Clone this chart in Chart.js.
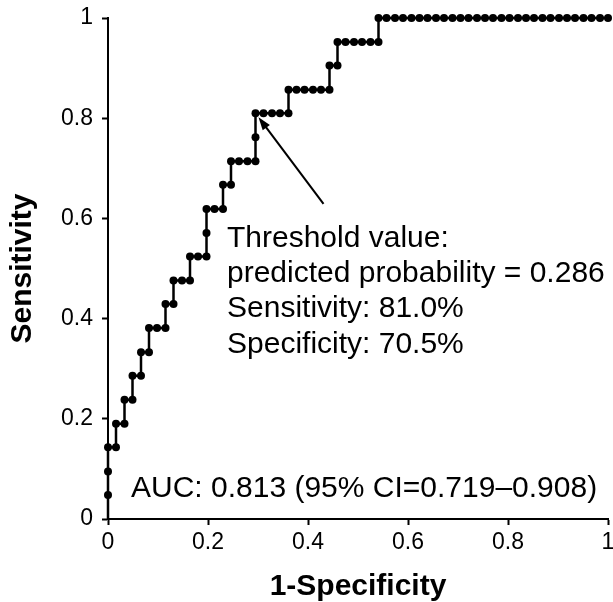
<!DOCTYPE html>
<html>
<head>
<meta charset="utf-8">
<script src="https://cdn.jsdelivr.net/npm/chart.js@4/dist/chart.umd.min.js"></script>
<style>
  body { margin: 0; background: #fff; }
  #wrap { width: 613px; height: 602px; }
</style>
</head>
<body>
<div id="wrap"><canvas id="myChart" width="613" height="602"></canvas></div>
<script>
// ROC curve points: 1-specificity (x) and sensitivity (y)
var fpr = [0, 0, 0, 0, 0.016, 0.016, 0.033, 0.033, 0.049, 0.049, 0.066, 0.066, 0.082, 0.082,
  0.098, 0.115, 0.115, 0.131, 0.131, 0.148, 0.164, 0.164, 0.180, 0.197, 0.197, 0.197, 0.213,
  0.230, 0.230, 0.246, 0.246, 0.262, 0.279, 0.295, 0.295, 0.295, 0.311, 0.328, 0.344, 0.361,
  0.361, 0.377, 0.393, 0.410, 0.426, 0.443, 0.443, 0.459, 0.459, 0.475, 0.492, 0.508, 0.525,
  0.541, 0.541, 0.557, 0.574, 0.590, 0.607, 0.623, 0.639, 0.656, 0.672, 0.689, 0.705, 0.721,
  0.738, 0.754, 0.770, 0.787, 0.803, 0.820, 0.836, 0.852, 0.869, 0.885, 0.902, 0.918, 0.934,
  0.951, 0.967, 0.984, 1]
var tpr = [0, 0.048, 0.095, 0.143, 0.143, 0.190, 0.190, 0.238, 0.238, 0.286, 0.286, 0.333, 0.333,
  0.381, 0.381, 0.381, 0.429, 0.429, 0.476, 0.476, 0.476, 0.524, 0.524, 0.524, 0.571, 0.619,
  0.619, 0.619, 0.667, 0.667, 0.714, 0.714, 0.714, 0.714, 0.762, 0.810, 0.810, 0.810, 0.810,
  0.810, 0.857, 0.857, 0.857, 0.857, 0.857, 0.857, 0.905, 0.905, 0.952, 0.952, 0.952, 0.952,
  0.952, 0.952, 1, 1, 1, 1, 1, 1, 1, 1, 1, 1, 1, 1, 1, 1, 1, 1, 1, 1, 1, 1, 1, 1, 1, 1, 1, 1,
  1, 1, 1]

var xTicks = [0, 0.2, 0.4, 0.6, 0.8, 1]
var yTicks = [0, 0.2, 0.4, 0.6, 0.8, 1]

// annotation
var thresholdPoint = [0.295, 0.810]
var arrowTail = [0.431, 0.629]
var noteLines = ["Threshold value:", "predicted probability = 0.286", "Sensitivity: 81.0%", "Specificity: 70.5%"]
var noteAnchor = [0.238, 0.5435]
var aucText = "AUC: 0.813 (95% CI=0.719\u20130.908)"
var aucAnchor = [0.046, 0.0445]

var FONT = "'Liberation Sans', Arial, Helvetica, sans-serif"
Chart.defaults.font.family = FONT
Chart.defaults.color = "#000"

var points = []
for (var i = 0; i < fpr.length; i++) points.push({x: fpr[i], y: tpr[i]})
var radii = points.map(function(p, i){ return i === 0 ? 0 : 4 })

var notes = {
  id: "notes",
  afterDatasetsDraw: function(chart){
    var ctx = chart.ctx, xs = chart.scales.x, ys = chart.scales.y
    ctx.save()
    // arrow
    var tx = xs.getPixelForValue(thresholdPoint[0]) + 3, ty = ys.getPixelForValue(thresholdPoint[1]) + 4
    var sx = xs.getPixelForValue(arrowTail[0]), sy = ys.getPixelForValue(arrowTail[1])
    var ang = Math.atan2(ty - sy, tx - sx)
    ctx.strokeStyle = "#000"
    ctx.fillStyle = "#000"
    ctx.lineWidth = 2
    ctx.beginPath()
    ctx.moveTo(sx, sy)
    ctx.lineTo(tx - 8 * Math.cos(ang), ty - 8 * Math.sin(ang))
    ctx.stroke()
    ctx.beginPath()
    ctx.moveTo(tx, ty)
    ctx.lineTo(tx - 13 * Math.cos(ang) + 4.5 * Math.sin(ang), ty - 13 * Math.sin(ang) - 4.5 * Math.cos(ang))
    ctx.lineTo(tx - 13 * Math.cos(ang) - 4.5 * Math.sin(ang), ty - 13 * Math.sin(ang) + 4.5 * Math.cos(ang))
    ctx.closePath()
    ctx.fill()
    // text
    ctx.font = "30px " + FONT
    ctx.textAlign = "left"
    ctx.textBaseline = "alphabetic"
    var nx = xs.getPixelForValue(noteAnchor[0]), ny = ys.getPixelForValue(noteAnchor[1])
    noteLines.forEach(function(t, k){ ctx.fillText(t, nx, ny + k * 35.3) })
    ctx.fillText(aucText, xs.getPixelForValue(aucAnchor[0]), ys.getPixelForValue(aucAnchor[1]))
    ctx.restore()
  }
}

var myChart = document.getElementById("myChart").getContext("2d")
var chart = new Chart(myChart, {
  type: "scatter",
  data: {
    datasets: [{
      label: "ROC",
      data: points,
      showLine: true,
      clip: false,
      borderColor: "#000",
      backgroundColor: "#000",
      borderWidth: 2.5,
      pointRadius: radii,
      pointHoverRadius: radii,
      pointBorderWidth: 0,
      tension: 0
    }]
  },
  options: {
    responsive: false,
    animation: false,
    layout: {padding: {top: 18, right: 5, left: 0, bottom: 0}},
    plugins: {legend: {display: false}, tooltip: {enabled: false}},
    scales: {
      x: {
        type: "linear", min: 0, max: 1,
        afterBuildTicks: function(s){ s.ticks = xTicks.map(function(v){ return {value: v} }) },
        afterFit: function(s){ s.height = 83; s.paddingLeft = 0; s.paddingRight = 0 },
        grid: {drawOnChartArea: false, drawTicks: true, tickLength: 6, tickWidth: 2, color: "#000"},
        border: {color: "#000", width: 2},
        ticks: {font: {size: 23}, padding: 4, maxRotation: 0,
          callback: function(v){ return String(+v.toFixed(1)) }},
        title: {display: true, text: "1-Specificity", font: {size: 30, weight: "bold"}, padding: {top: 0, bottom: -3}}
      },
      y: {
        type: "linear", min: 0, max: 1,
        afterBuildTicks: function(s){ s.ticks = yTicks.map(function(v){ return {value: v} }) },
        afterFit: function(s){ s.width = 108; s.paddingTop = 0; s.paddingBottom = 0 },
        grid: {drawOnChartArea: false, drawTicks: true, tickLength: 6, tickWidth: 2, color: "#000"},
        border: {color: "#000", width: 2},
        ticks: {font: {size: 23}, padding: 9,
          callback: function(v){ return String(+v.toFixed(1)) }},
        title: {display: true, text: "Sensitivity", font: {size: 30, weight: "bold"}, padding: {top: 5, bottom: 4}}
      }
    }
  },
  plugins: [notes]
})
</script>
</body>
</html>
